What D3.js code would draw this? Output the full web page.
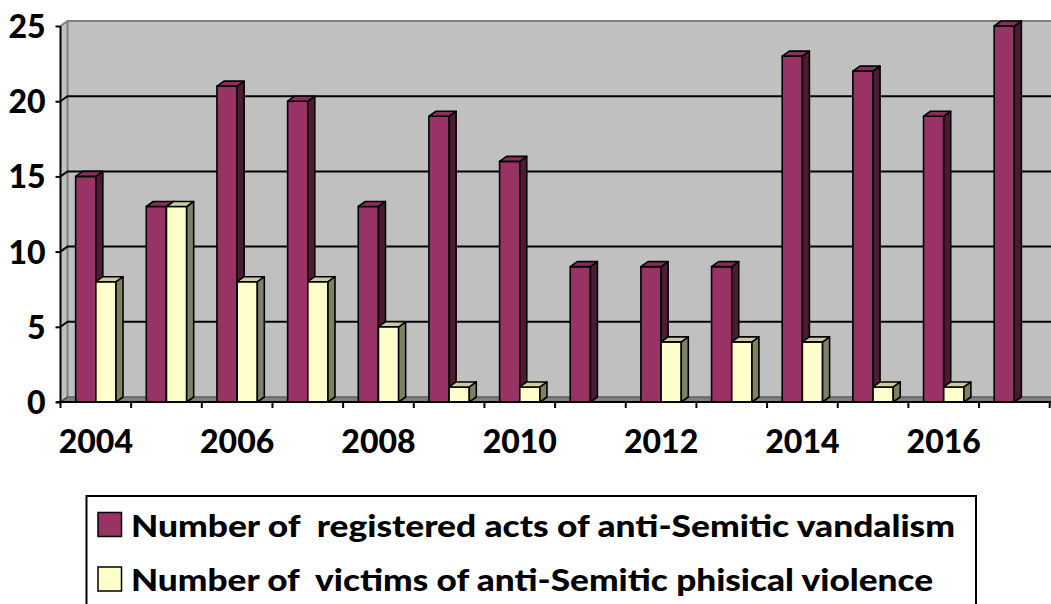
<!DOCTYPE html>
<html><head><meta charset="utf-8">
<script src="https://cdn.jsdelivr.net/npm/d3@7"></script>
<style>
body{margin:0;background:#fff;}
text{font-family:Lato,"Open Sans",sans-serif;font-weight:900;fill:#000;}
</style></head>
<body>
<svg id="c" width="1051" height="604"></svg>
<script>
const years = ["2004","2005","2006","2007","2008","2009","2010","2011","2012","2013","2014","2015","2016","2017"];
const vandalism = [15,13,21,20,13,19,16,9,9,9,23,22,19,25];
const victims = [8,13,8,8,5,1,1,0,4,4,4,1,1,0];
const seriesNames = ["Number of  registered acts of anti-Semitic vandalism","Number of  victims of anti-Semitic phisical violence"];
const yTicks = [0,5,10,15,20,25];
const xLabels = ["2004","2006","2008","2010","2012","2014","2016"];

const colors = [
  {front:"#993366", side:"#4d1a33", top:"#8a2e5c"},
  {front:"#ffffcc", side:"#808066", top:"#cccca3"}
];

const svg = d3.select("#c");
const x0 = 60.5, x1 = 1049.7, yBase = 402, yTop = 26;
const DX = 7, DY = 5;
const y = d3.scaleLinear().domain([0,25]).range([yBase, yTop]);
const x = d3.scaleBand().domain(years).range([x0, x1]).padding(0);
const xs = d3.scaleBand().domain([0,1]).range([0, x.bandwidth()]).paddingInner(0).paddingOuter(0.75);

// walls
const right = 1051;
svg.append("rect").attr("x", x0+DX).attr("y", y(25)-DY).attr("width", right-(x0+DX)).attr("height", yBase-y(25)).attr("fill","#c0c0c0");
svg.append("polygon").attr("points", `${x0},${y(25)} ${x0+DX},${y(25)-DY} ${x0+DX},${yBase-DY} ${x0},${yBase}`).attr("fill","#c0c0c0");
svg.append("polygon").attr("points", `${x0},${yBase} ${x0+DX},${yBase-DY} ${right},${yBase-DY} ${right},${yBase}`).attr("fill","#808080");
svg.append("path").attr("d", `M${x0},${y(25)} L${x0+DX},${y(25)-DY} L${right},${y(25)-DY}`).attr("fill","none").attr("stroke","#808080").attr("stroke-width",2);
svg.append("line").attr("x1", x0+DX).attr("x2", x0+DX).attr("y1", y(25)-DY).attr("y2", yBase-DY).attr("stroke","#808080").attr("stroke-width",2);
svg.append("line").attr("x1", x0).attr("x2", x0+DX).attr("y1", yBase).attr("y2", yBase-DY).attr("stroke","#404040").attr("stroke-width",1.5);
svg.append("line").attr("x1", x0+DX).attr("x2", right).attr("y1", yBase-DY).attr("y2", yBase-DY).attr("stroke","#606060").attr("stroke-width",1.5);

// gridlines
const grid = svg.append("g");
yTicks.filter(t => t > 0 && t < 25).forEach(t => {
  grid.append("path").attr("d", `M${x0},${y(t)} L${x0+DX},${y(t)-DY} L${right},${y(t)-DY}`)
    .attr("fill","none").attr("stroke","#000").attr("stroke-width",2);
});

// bars
const series = [vandalism, victims];
const bars = svg.append("g");
years.forEach((yr, i) => {
  series.forEach((vals, s) => {
    const v = vals[i];
    if (v <= 0) return;
    const bx = x(yr) + xs(s), bw = xs.bandwidth();
    const top = y(v), bot = y(0);
    const c = colors[s];
    const g = bars.append("g").attr("stroke","#000").attr("stroke-width",1.6).attr("stroke-linejoin","round");
    g.append("rect").attr("x", bx).attr("y", top).attr("width", bw).attr("height", bot-top).attr("fill", c.front);
    g.append("polygon").attr("points", `${bx+bw},${top} ${bx+bw+DX},${top-DY} ${bx+bw+DX},${bot-DY} ${bx+bw},${bot}`).attr("fill", c.side);
    g.append("polygon").attr("points", `${bx},${top} ${bx+DX},${top-DY} ${bx+bw+DX},${top-DY} ${bx+bw},${top}`).attr("fill", c.top);
  });
});

// axes
const yAxis = svg.append("g").attr("transform", `translate(${x0},0)`)
  .call(d3.axisLeft(y).tickValues(yTicks).tickSize(5).tickPadding(10).tickFormat(d3.format("d")));
yAxis.select(".domain").attr("stroke","#000").attr("stroke-width",2).attr("d", `M0,${y(25)}V${yBase}`);
yAxis.selectAll(".tick line").attr("stroke","#000").attr("stroke-width",2);
yAxis.selectAll(".tick text").attr("font-size",32).attr("dy","0.36em").attr("fill","#000").attr("font-family","Lato").attr("font-weight","900");

const xAxisG = svg.append("g").attr("transform", `translate(0,${yBase})`);
xAxisG.append("line").attr("x1", x0-4).attr("x2", right).attr("y1",0).attr("y2",0).attr("stroke","#000").attr("stroke-width",2);
d3.range(years.length+1).forEach(k => {
  const tx = x0 + k*x.step();
  if (tx > right) return;
  xAxisG.append("line").attr("x1", tx).attr("x2", tx).attr("y1",0).attr("y2",6).attr("stroke","#000").attr("stroke-width",2);
});
xLabels.forEach(lbl => {
  xAxisG.append("text").attr("x", x(lbl) + x.bandwidth()/2).attr("y", 51)
    .attr("text-anchor","middle").attr("font-size",32).text(lbl);
});

// legend
const lg = svg.append("g");
lg.append("rect").attr("x", 86.5).attr("y", 496).attr("width", 889.5).attr("height", 130)
  .attr("fill","#fff").attr("stroke","#000").attr("stroke-width",2);
const legendEnds = [955, 933];
seriesNames.forEach((name, s) => {
  const cy = 524.5 + s*54.5;
  lg.append("rect").attr("x", 98).attr("y", cy-12).attr("width", 23.5).attr("height", 24)
    .attr("fill", colors[s].front).attr("stroke","#000").attr("stroke-width",1.5);
  lg.append("text").attr("x", 131).attr("y", cy+12).attr("font-size",31)
    .style("white-space","pre").attr("textLength", legendEnds[s]-131).attr("lengthAdjust","spacingAndGlyphs").text(name);
});
</script>
</body></html>
